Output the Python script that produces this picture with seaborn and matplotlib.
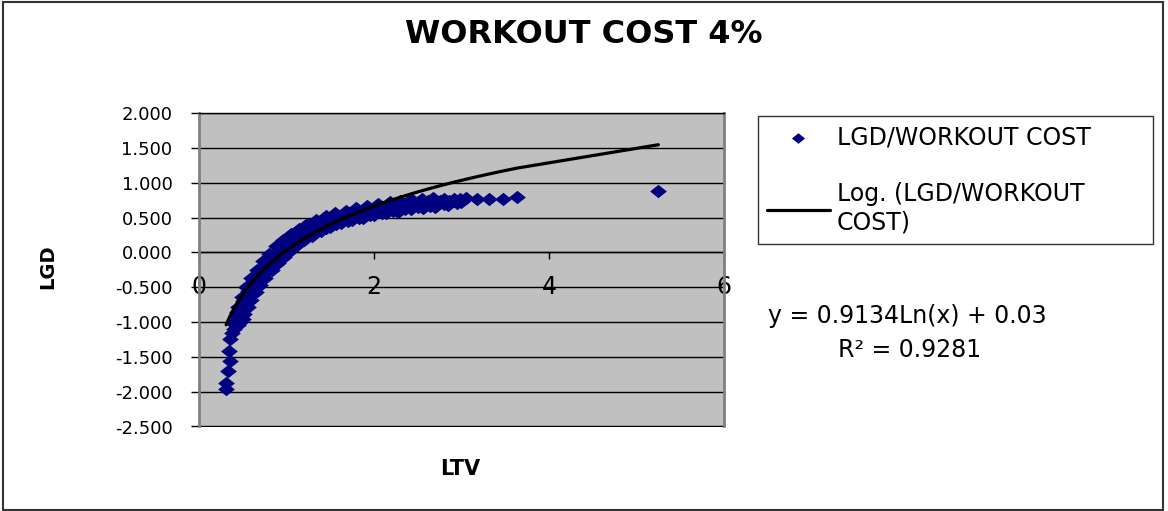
"""LGD vs LTV scatter with logarithmic trendline (workout cost 4%)."""

import matplotlib
matplotlib.use("Agg")
import matplotlib.pyplot as plt
import numpy as np
import seaborn as sns
from matplotlib.patches import Rectangle

ltv = [
    0.31, 0.31, 0.33, 0.35, 0.34, 0.36, 0.38, 0.40, 0.39, 0.43, 0.47, 0.50,
    # upper edge of band
    0.42, 0.45, 0.49, 0.54, 0.60, 0.66, 0.73, 0.80, 0.88, 0.96, 1.05, 1.14,
    1.24, 1.34, 1.45, 1.56, 1.68, 1.80, 1.92, 2.05, 2.18, 2.30, 2.42, 2.55,
    2.68, 2.80, 2.92, 3.05, 3.18, 3.31, 3.47, 3.64,
    # upper-middle
    0.44, 0.50, 0.56, 0.62, 0.68, 0.75, 0.83, 0.91, 0.99, 1.08, 1.17, 1.27,
    1.37, 1.48, 1.60, 1.72, 1.85, 1.98, 2.10, 2.23, 2.36, 2.50, 2.62, 2.76,
    2.86, 2.98,
    # middle
    0.47, 0.52, 0.57, 0.63, 0.70, 0.77, 0.85, 0.93, 1.02, 1.11, 1.21, 1.31,
    1.42, 1.53, 1.65, 1.78, 1.90, 2.02, 2.16, 2.30, 2.45, 2.60, 2.75, 2.90,
    # lower-middle
    0.50, 0.55, 0.61, 0.67, 0.73, 0.80, 0.88, 0.96, 1.05, 1.14, 1.24, 1.34,
    1.45, 1.57, 1.70, 1.83, 1.96, 2.09, 2.22, 2.36, 2.50, 2.64, 2.80, 2.95,
    # lower edge of band
    0.45, 0.48, 0.52, 0.56, 0.60, 0.65, 0.70, 0.76, 0.83, 0.90, 0.97, 1.04,
    1.12, 1.20, 1.29, 1.39, 1.50, 1.62, 1.75, 1.88, 2.00, 2.14, 2.28, 2.42,
    2.56, 2.70, 2.85, 3.00,
    5.25,
]
lgd = [
    -1.96, -1.88, -1.70, -1.56, -1.42, -1.25, -1.16, -1.10, -1.02, -1.05, -1.00, -0.95,
    -0.92, -0.78, -0.64, -0.50, -0.37, -0.25, -0.13, -0.02, 0.09, 0.18, 0.27, 0.34,
    0.41, 0.47, 0.52, 0.56, 0.60, 0.63, 0.66, 0.70, 0.72, 0.74, 0.76, 0.77,
    0.78, 0.77, 0.77, 0.78, 0.77, 0.77, 0.76, 0.80,
    -0.85, -0.70, -0.55, -0.42, -0.30, -0.18, -0.06, 0.05, 0.14, 0.23, 0.30, 0.37,
    0.43, 0.48, 0.52, 0.56, 0.59, 0.62, 0.65, 0.67, 0.69, 0.72, 0.73, 0.74,
    0.74, 0.76,
    -0.90, -0.76, -0.64, -0.51, -0.38, -0.25, -0.12, -0.01, 0.10, 0.19, 0.27, 0.34,
    0.40, 0.45, 0.50, 0.53, 0.57, 0.60, 0.63, 0.65, 0.68, 0.70, 0.72, 0.73,
    -0.84, -0.72, -0.60, -0.48, -0.37, -0.26, -0.15, -0.04, 0.06, 0.14, 0.22, 0.29,
    0.35, 0.40, 0.45, 0.49, 0.53, 0.57, 0.60, 0.62, 0.65, 0.67, 0.69, 0.71,
    -1.05, -0.98, -0.88, -0.78, -0.68, -0.57, -0.47, -0.37, -0.26, -0.15, -0.06, 0.02,
    0.10, 0.17, 0.24, 0.31, 0.37, 0.42, 0.46, 0.50, 0.53, 0.56, 0.58, 0.62,
    0.64, 0.65, 0.68, 0.72,
    0.88,
]

# trendline shown on the chart: y = 0.9134 Ln(x) + 0.03
trend_slope = 0.9134
trend_icept = 0.03
r_squared = 0.9281

y_ticks = [-2.5, -2.0, -1.5, -1.0, -0.5, 0.0, 0.5, 1.0, 1.5, 2.0]
x_ticks = [0, 2, 4, 6]

sns.set_style("ticks")
plt.rcParams["font.family"] = ["DejaVu Sans"]
plt.rcParams["text.color"] = "black"
plt.rcParams["xtick.color"] = "black"
plt.rcParams["ytick.color"] = "black"

W, H = 1168, 511
fig = plt.figure(figsize=(W / 100, H / 100), dpi=100)
ax = fig.add_axes([199 / W, 1 - 426.5 / H, 525 / W, 313.5 / H])
ax.set_facecolor("#C0C0C0")

diamond = [(-1, 0), (0, -0.8), (1, 0), (0, 0.8), (-1, 0)]
sns.scatterplot(x=ltv, y=lgd, marker=diamond, s=145, color="#000080",
                linewidth=0, label="LGD/WORKOUT COST", ax=ax, zorder=2)

x_fit = np.unique(ltv)
y_fit = trend_slope * np.log(x_fit) + trend_icept
sns.lineplot(x=x_fit, y=y_fit, color="black", linewidth=2.3, errorbar=None,
             label="Log. (LGD/WORKOUT\nCOST)", ax=ax, zorder=3)

ax.set_xlim(0, 6)
ax.set_ylim(-2.5, 2.0)
ax.set_yticks(y_ticks)
ax.set_yticklabels([f"{v:.3f}" for v in y_ticks])
ax.set_xticks(x_ticks)
ax.set_xticklabels([str(v) for v in x_ticks])
ax.tick_params(axis="y", direction="out", length=6, width=1, pad=13,
               color="black", labelsize=13, labelcolor="black")
ax.tick_params(axis="x", direction="out", length=5.3, width=1, pad=11,
               color="black", labelsize=17, labelcolor="black")
ax.set_xlabel("")
ax.set_ylabel("")

ax.yaxis.grid(True, color="black", linewidth=1)
ax.set_axisbelow(True)
ax.spines["bottom"].set_position(("data", 0))
ax.spines["bottom"].set_zorder(0.6)
ax.spines["bottom"].set_linewidth(1)
ax.spines["bottom"].set_color("black")
for side in ["left", "right"]:
    ax.spines[side].set_visible(True)
    ax.spines[side].set_color("#808080")
    ax.spines[side].set_linewidth(2)
ax.spines["top"].set_visible(True)
ax.spines["top"].set_color("black")
ax.spines["top"].set_linewidth(1)

ax.legend_.remove()
handles, labels = ax.get_legend_handles_labels()
leg = fig.legend(handles, labels, loc="upper left",
                 bbox_to_anchor=(758 / W, 1 - 250 / H, 395 / W, 134 / H),
                 mode="expand", fontsize=17, frameon=True, fancybox=False,
                 edgecolor="black", borderpad=0.4, labelspacing=1.4,
                 handlelength=2.63, handletextpad=0.3, borderaxespad=0)
leg.get_frame().set_linewidth(1)
leg.legend_handles[0].set_sizes([90])

fig.text(584 / W, 1 - 43.3 / H, "WORKOUT COST 4%", ha="center", va="baseline",
         fontsize=23, fontweight="bold")
fig.text(460 / W, 1 - 475 / H, "LTV", ha="center", va="baseline",
         fontsize=15, fontweight="bold")
fig.text(48 / W, 1 - 267 / H, "LGD", ha="center", va="center", rotation=90,
         fontsize=14, fontweight="bold")
fig.text(768 / W, 1 - 323.3 / H,
         f"y = {trend_slope:.4f}Ln(x) + {trend_icept:.2f}",
         ha="left", va="baseline", fontsize=17)
fig.text(838 / W, 1 - 356.7 / H, f"R\u00b2 = {r_squared:.4f}",
         ha="left", va="baseline", fontsize=17)

fig.patches.append(Rectangle((3 / W, 1 / H), 1160 / W, 508 / H,
                             transform=fig.transFigure, fill=False,
                             edgecolor="#333333", linewidth=1.5))

fig.savefig("out.png", dpi=100)
plt.close(fig)
